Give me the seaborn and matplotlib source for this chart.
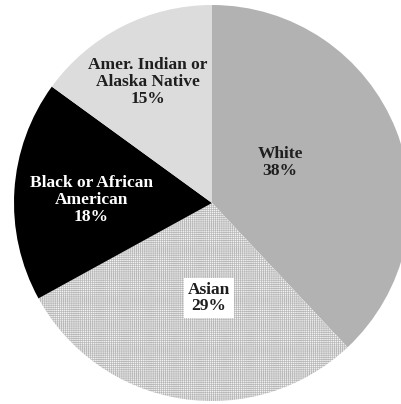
import matplotlib
matplotlib.use("Agg")
import matplotlib.pyplot as plt
import numpy as np
import seaborn as sns

# Share of each group, drawn clockwise from 12 o'clock
groups = ["White", "Asian", "Black or African\nAmerican", "Amer. Indian or\nAlaska Native"]
shares = [38, 29, 18, 15]
fills = ["#b2b2b2", "#f4f4f4", "#000000", "#dcdcdc"]
text_colors = ["#1e1e1e", "#1e1e1e", "#ffffff", "#1e1e1e"]
# label anchors (radius, angle in degrees) for each wedge
label_polar = [(0.40, 30.5), (0.48, -91.8), (0.61, 178.6), (0.69, 118.0)]

sns.set_theme(style="white")
plt.rcParams["font.family"] = ["Liberation Serif", "DejaVu Serif"]
plt.rcParams["hatch.linewidth"] = 0.5

fig = plt.figure(figsize=(4.01, 4.04), dpi=100)
ax = fig.add_axes([0, 0, 1, 1])

wedges, _ = ax.pie(shares, colors=fills, startangle=90, counterclock=False,
                   radius=1.0, wedgeprops=dict(linewidth=0))

# fine dotted texture for the Asian wedge
wedges[1].set_hatch("++++++++")
wedges[1].set_edgecolor("#b8b8b8")
wedges[1].set_linewidth(0)

for name, val, tc, (r, a) in zip(groups, shares, text_colors, label_polar):
    x = r * np.cos(np.deg2rad(a))
    y = r * np.sin(np.deg2rad(a))
    kw = {}
    if name == "Asian":
        kw["bbox"] = dict(boxstyle="square,pad=0.2", facecolor="white", edgecolor="none")
    ax.text(x, y, f"{name}\n{val}%", ha="center", va="center", color=tc,
            fontsize=12.5, fontweight="bold", linespacing=1.08, **kw)

ax.set_xlim(-212 / 198, (401 - 212) / 198)
ax.set_ylim(-(404 - 203) / 198, 203 / 198)
ax.set_aspect("auto")
ax.axis("off")

fig.savefig("out.png", dpi=100, facecolor="white")
